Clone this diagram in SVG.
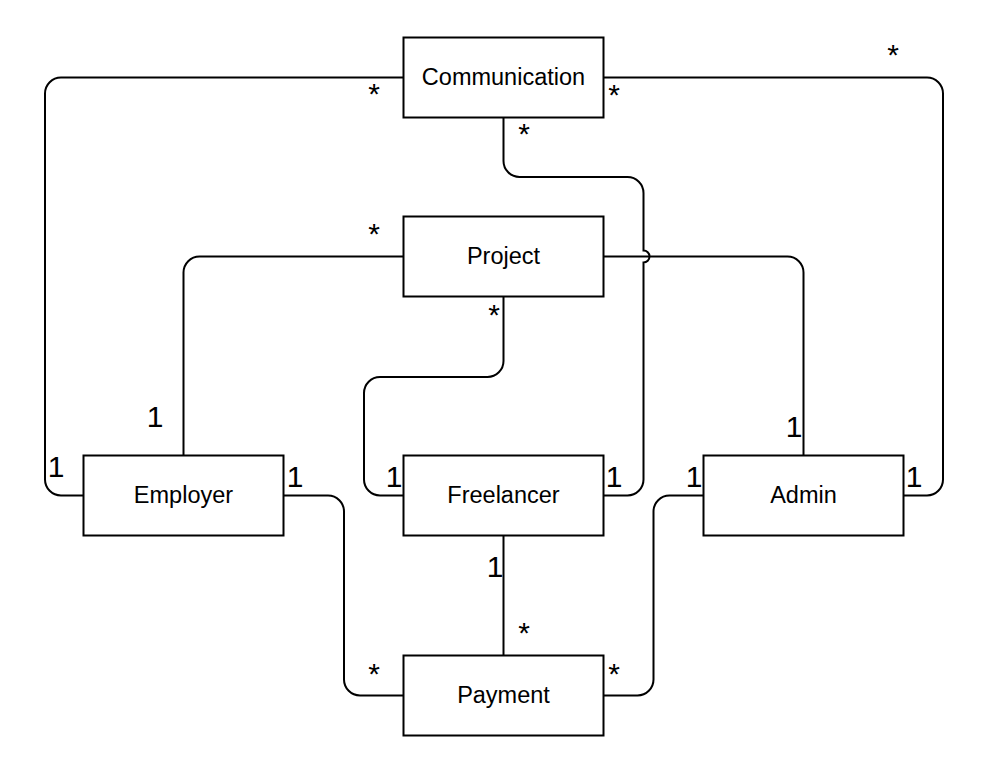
<svg xmlns="http://www.w3.org/2000/svg" width="1002" height="770" viewBox="0 0 1002 770">
<style>
.box{fill:#fff;stroke:#000;stroke-width:2}
.name{font-family:"Liberation Sans",Arial,sans-serif;font-size:23.5px;text-anchor:middle;fill:#000}
.edge{fill:none;stroke:#000;stroke-width:2}
.lbl{font-family:"Liberation Sans",Arial,sans-serif;font-size:30px;text-anchor:middle;fill:#000}
</style>
<rect width="1002" height="770" fill="#fff"/>
<g id="connectors">
<path class="edge" d="M403.5,77.5 H61 A16,16 0 0 0 45,93.5 V479.5 A16,16 0 0 0 61,495.5 H83.5"/>
<path class="edge" d="M603.5,77.5 H927 A16,16 0 0 1 943,93.5 V479.5 A16,16 0 0 1 927,495.5 H903.5"/>
<path class="edge" d="M603.5,256.5 H787.5 A16,16 0 0 1 803.5,272.5 V455.5"/>
<path class="edge" d="M503.5,117.5 V161 A16,16 0 0 0 519.5,177 H627.5 A16,16 0 0 1 643.5,193 V250.5 A6,6 0 0 1 643.5,262.5 V479.5 A16,16 0 0 1 627.5,495.5 H603.5"/>
<path class="edge" d="M403.5,256.5 H199.5 A16,16 0 0 0 183.5,272.5 V455.5"/>
<path class="edge" d="M503.5,296.5 V361 A16,16 0 0 1 487.5,377 H380 A16,16 0 0 0 364,393 V479.5 A16,16 0 0 0 380,495.5 H403.5"/>
<path class="edge" d="M503.5,535.5 V655.5"/>
<path class="edge" d="M283.5,495.5 H328 A16,16 0 0 1 344,511.5 V679.5 A16,16 0 0 0 360,695.5 H403.5"/>
<path class="edge" d="M703.5,495.5 H669.5 A16,16 0 0 0 653.5,511.5 V679.5 A16,16 0 0 1 637.5,695.5 H603.5"/>
<text class="lbl" x="374" y="104">*</text>
<text class="lbl" x="614" y="105">*</text>
<text class="lbl" x="524" y="144">*</text>
<text class="lbl" x="893" y="65">*</text>
<text class="lbl" x="374" y="244">*</text>
<text class="lbl" x="494" y="325">*</text>
<text class="lbl" x="524" y="643">*</text>
<text class="lbl" x="374" y="684">*</text>
<text class="lbl" x="614" y="684">*</text>
<text class="lbl" x="155" y="427">1</text>
<text class="lbl" x="56" y="477">1</text>
<text class="lbl" x="295" y="487">1</text>
<text class="lbl" x="394" y="487">1</text>
<text class="lbl" x="614" y="487">1</text>
<text class="lbl" x="694" y="487">1</text>
<text class="lbl" x="794" y="437">1</text>
<text class="lbl" x="914" y="487">1</text>
<text class="lbl" x="495" y="577">1</text>
</g>
<g id="communication"><rect class="box" x="403.5" y="37.5" width="200" height="80"/><text class="name" x="503.5" y="85">Communication</text></g>
<g id="project"><rect class="box" x="403.5" y="216.5" width="200" height="80"/><text class="name" x="503.5" y="264">Project</text></g>
<g id="employer"><rect class="box" x="83.5" y="455.5" width="200" height="80"/><text class="name" x="183.5" y="503">Employer</text></g>
<g id="freelancer"><rect class="box" x="403.5" y="455.5" width="200" height="80"/><text class="name" x="503.5" y="503">Freelancer</text></g>
<g id="admin"><rect class="box" x="703.5" y="455.5" width="200" height="80"/><text class="name" x="803.5" y="503">Admin</text></g>
<g id="payment"><rect class="box" x="403.5" y="655.5" width="200" height="80"/><text class="name" x="503.5" y="703">Payment</text></g>
</svg>
